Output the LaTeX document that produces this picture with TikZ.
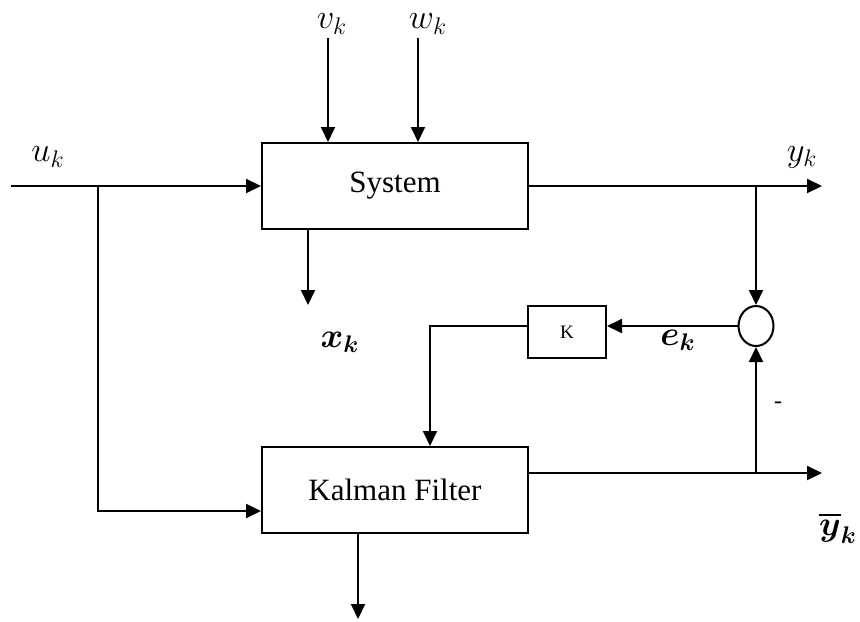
\documentclass[tikz,border=0pt]{standalone}
\usepackage{fontspec}
\setmainfont{Liberation Serif}
\usepackage{amsmath}
\usepackage{bm}
\usepackage{tikz}
\usetikzlibrary{arrows.meta,positioning,calc,shapes.geometric}

\begin{document}
\begin{tikzpicture}[
  x=0.5pt, y=-0.5pt,
  font=\fontsize{15.5}{18}\selectfont,
  line width=1pt,
  block/.style={draw, rectangle, minimum width=133pt, minimum height=43pt, inner sep=0pt},
  gain/.style={draw, rectangle, minimum width=39pt, minimum height=26pt, inner sep=0pt,
               font=\fontsize{9.5}{11}\selectfont},
  sumnode/.style={draw, ellipse, minimum width=17.5pt, minimum height=20pt, inner sep=0pt},
  sig/.style={font=\fontsize{17}{20}\selectfont},
  arr/.style={-{Triangle[length=7.5pt,width=7pt]}}
]
\useasboundingbox (0,0) rectangle (860,621);
\node[block] (sys) at (395,186) {System};
\node[block] (kf) at (395,490) {Kalman Filter};
\node[gain] (gk) at (567,332) {\raisebox{-1.5pt}{K}};
\node[sumnode] (sum) at (756,326) {};
\node[sig] (uk) at (48,157) {$u_k$};
\node[sig] (vk) at (332,24) {$v_k$};
\node[sig] (wk) at (428,24) {$w_k$};
\node[sig] (yk) at (802,157) {$y_k$};
\node[sig] (xk) at (340,342) {$\bm{x}_{\bm{k}}$};
\node[sig] (ek) at (678,340) {$\bm{e}_{\bm{k}}$};
\node[sig] (ybk) at (838,528) {$\overline{\bm{y}}_{\bm{k}}$};
\node[font=\fontsize{12}{14}\selectfont] (minus) at (778,405) {-};
\coordinate (uin) at (11,186);
\coordinate (ubr) at (98,186);
\coordinate (vin) at (328,38);
\coordinate (win) at (418,38);
\coordinate (ybr) at (756,186);
\coordinate (yout) at (822,186);
\coordinate (ybbr) at (756,473);
\coordinate (ybout) at (822,473);
\coordinate (xout) at (308,305);
\coordinate (kfout) at (358,619);
% system side
\draw[arr] (uin) -- (sys.west);
\draw[arr] (vin) -- (vin |- sys.north);
\draw[arr] (win) -- (win |- sys.north);
\draw[arr] (sys.east) -- (yout);
\draw[arr] ($(sys.south)+(-87,0)$) -- (xout);
% filter side
\draw[arr] (ubr) |- ($(kf.west)+(0,21)$);
\draw[arr] ($(kf.east)+(0,-17)$) -- (ybout);
\draw[arr] ($(kf.south)+(-37,0)$) -- (kfout);
% correction loop
\draw[arr] (ybr) -- (sum.north);
\draw[arr] (ybbr) -- (sum.south);
\draw[arr] (sum.west) -- (gk.east |- sum.west);
\draw[arr] (gk.west |- sum.west) -| ($(kf.north)+(35,0)$);
\end{tikzpicture}
\end{document}
